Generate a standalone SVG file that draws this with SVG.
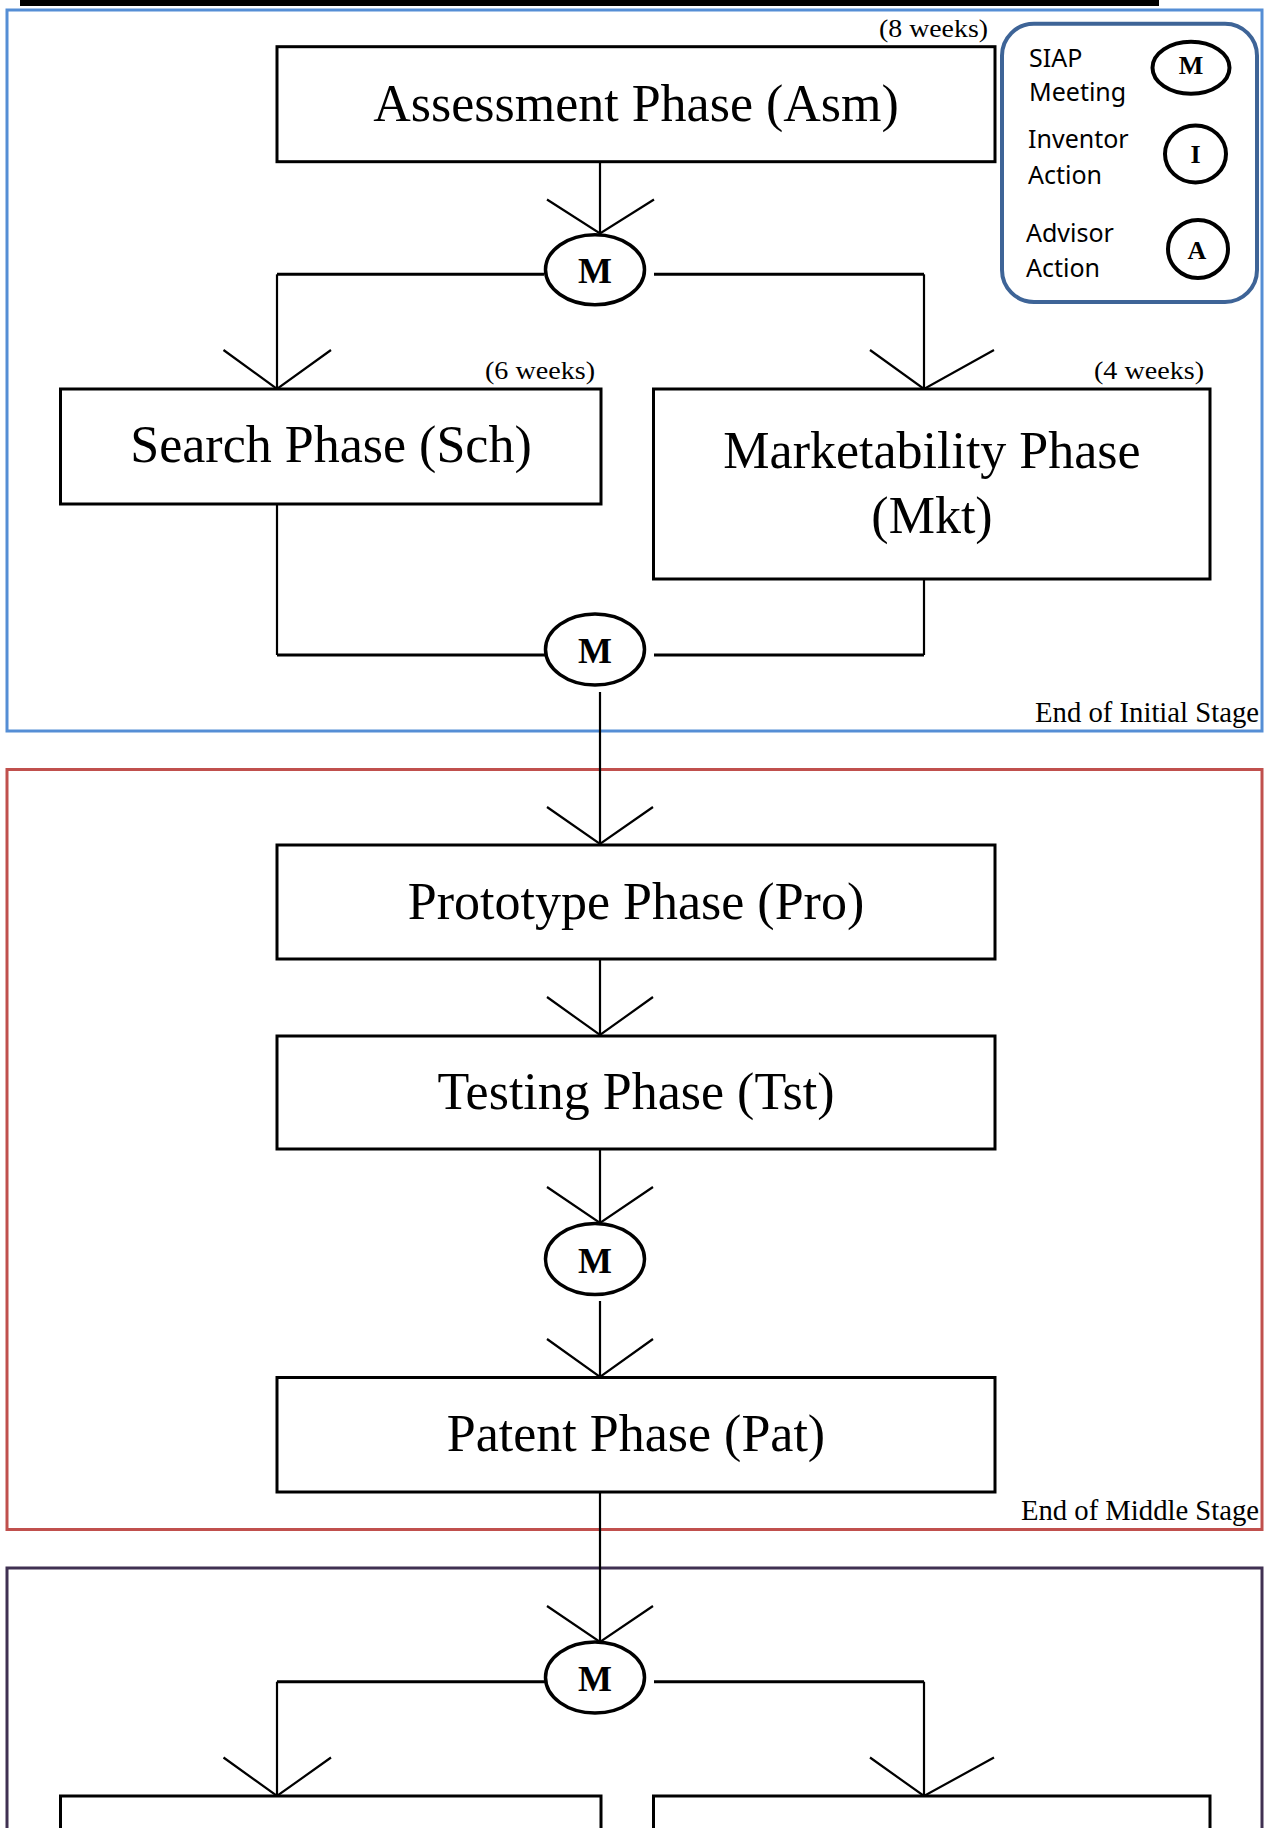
<svg xmlns="http://www.w3.org/2000/svg" width="1265" height="1828" viewBox="0 0 1265 1828">
<style>
.frame{fill:none;stroke-width:3}
.box{fill:#fff;stroke:#000;stroke-width:3}
.mnode{fill:#fff;stroke:#000;stroke-width:3.5}
.line{fill:none;stroke:#000;stroke-width:2.2}
.hline{fill:none;stroke:#000;stroke-width:3}
.phase{font-family:"Liberation Serif","Times New Roman",serif;font-size:52px;fill:#000;text-anchor:middle}
.small{font-family:"Liberation Serif","Times New Roman",serif;font-size:26px;fill:#000;text-anchor:end}
.stage{font-family:"Liberation Serif","Times New Roman",serif;font-size:28.5px;fill:#000;text-anchor:end}
.mtext{font-family:"Liberation Serif","Times New Roman",serif;font-weight:bold;font-size:36px;fill:#000;text-anchor:middle}
.legtext{font-family:"Noto Sans","Liberation Sans",sans-serif;font-size:25px;fill:#000}
.legsym{font-family:"Liberation Serif","Times New Roman",serif;font-weight:bold;font-size:26px;fill:#000;text-anchor:middle}
.legell{fill:#fff;stroke:#000;stroke-width:4}
</style>
<rect x="0" y="0" width="1265" height="1828" fill="#fff"/>
<rect x="20" y="0" width="1139" height="6" fill="#000"/>

<g id="stages">
<g id="stage-initial">
<rect class="frame" x="7" y="10" width="1255" height="721" stroke="#558ed5"/>
<text class="stage" x="1259" y="721.5" textLength="224" lengthAdjust="spacingAndGlyphs">End of Initial Stage</text>
</g>
<g id="stage-middle">
<rect class="frame" x="7" y="769.5" width="1255" height="760" stroke="#c0504d"/>
<text class="stage" x="1259" y="1519.5" textLength="238" lengthAdjust="spacingAndGlyphs">End of Middle Stage</text>
</g>
<g id="stage-final">
<rect class="frame" x="7" y="1568" width="1255" height="300" stroke="#403152"/>
</g>
</g>

<g id="connectors">
<path class="line" d="M600 162 V233.5"/>
<path class="line" d="M547 199.5 L600 233.5 L654 199.5"/>
<path class="hline" d="M544 274.3 H277"/>
<path class="line" d="M277 274.3 V389"/>
<path class="line" d="M223.5 350 L277 389 L331 350"/>
<path class="hline" d="M654 274.3 H924"/>
<path class="line" d="M924 274.3 V389"/>
<path class="line" d="M870 350 L924 389 L994 350"/>
<path class="line" d="M277 504 V655"/>
<path class="hline" d="M277 655 H545"/>
<path class="line" d="M924 579 V655"/>
<path class="hline" d="M924 655 H654"/>
<path class="line" d="M600 692 V844"/>
<path class="line" d="M547 807 L600 844 L653 807"/>
<path class="line" d="M600 959 V1035"/>
<path class="line" d="M547 997 L600 1035 L653 997"/>
<path class="line" d="M600 1149 V1223"/>
<path class="line" d="M547 1187 L600 1223 L653 1187"/>
<path class="line" d="M600 1301 V1377"/>
<path class="line" d="M547 1339 L600 1377 L653 1339"/>
<path class="line" d="M600 1492 V1642"/>
<path class="line" d="M547 1606 L600 1642 L653 1606"/>
<path class="hline" d="M545 1681.7 H277"/>
<path class="line" d="M277 1681.7 V1796"/>
<path class="line" d="M223.5 1757.5 L277 1796 L331 1757.5"/>
<path class="hline" d="M654 1681.7 H924"/>
<path class="line" d="M924 1681.7 V1796"/>
<path class="line" d="M870 1757.5 L924 1796 L994 1757.5"/>
</g>

<g id="asm">
<rect class="box" x="277" y="46.7" width="718" height="115"/>
<text class="phase" x="636" y="120.7">Assessment Phase (Asm)</text>
<text class="small" x="988" y="36.5" textLength="109" lengthAdjust="spacingAndGlyphs">(8 weeks)</text>
</g>

<g id="m1">
<ellipse class="mnode" cx="595" cy="269.7" rx="49.5" ry="35"/>
<text class="mtext" x="595" y="283">M</text>
</g>

<g id="sch">
<rect class="box" x="60.5" y="389" width="540.5" height="115"/>
<text class="phase" x="331" y="462">Search Phase (Sch)</text>
<text class="small" x="595" y="379" textLength="110" lengthAdjust="spacingAndGlyphs">(6 weeks)</text>
</g>

<g id="mkt">
<rect class="box" x="653.5" y="389" width="556.5" height="190"/>
<text class="phase" x="932" y="468.3">Marketability Phase</text>
<text class="phase" x="932" y="532.7">(Mkt)</text>
<text class="small" x="1204" y="379" textLength="110" lengthAdjust="spacingAndGlyphs">(4 weeks)</text>
</g>

<g id="m2">
<ellipse class="mnode" cx="595" cy="649.5" rx="49.5" ry="35.5"/>
<text class="mtext" x="595" y="663">M</text>
</g>

<g id="pro">
<rect class="box" x="277" y="845" width="718" height="114"/>
<text class="phase" x="636" y="918.5">Prototype Phase (Pro)</text>
</g>

<g id="tst">
<rect class="box" x="277" y="1036" width="718" height="113"/>
<text class="phase" x="636" y="1109">Testing Phase (Tst)</text>
</g>

<g id="m3">
<ellipse class="mnode" cx="595" cy="1259" rx="49.5" ry="35.5"/>
<text class="mtext" x="595" y="1272.5">M</text>
</g>

<g id="pat">
<rect class="box" x="277" y="1377.5" width="718" height="114.5"/>
<text class="phase" x="636" y="1451">Patent Phase (Pat)</text>
</g>

<g id="m4">
<ellipse class="mnode" cx="595" cy="1677.5" rx="49.5" ry="35.5"/>
<text class="mtext" x="595" y="1691">M</text>
</g>

<g id="final-left">
<rect class="box" x="60.5" y="1796" width="540.5" height="60"/>
</g>
<g id="final-right">
<rect class="box" x="653.5" y="1796" width="556.5" height="60"/>
</g>

<g id="legend">
<rect x="1002" y="23.7" width="255" height="278.3" rx="32" ry="32" fill="#fff" stroke="#3e6497" stroke-width="4"/>
<text class="legtext" x="1029" y="66.7">SIAP</text>
<text class="legtext" x="1029" y="101">Meeting</text>
<ellipse class="legell" cx="1191" cy="67.8" rx="38.5" ry="26"/>
<text class="legsym" x="1191" y="74.3">M</text>
<text class="legtext" x="1028" y="148.3">Inventor</text>
<text class="legtext" x="1028" y="184.3">Action</text>
<ellipse class="legell" cx="1195.5" cy="154" rx="30.5" ry="28.5" stroke-width="3.5"/>
<text class="legsym" x="1195.5" y="162.7">I</text>
<text class="legtext" x="1026" y="242.3">Advisor</text>
<text class="legtext" x="1026" y="277.3">Action</text>
<ellipse class="legell" cx="1198" cy="249" rx="30" ry="29" stroke-width="3.5"/>
<text class="legsym" x="1197" y="259.3">A</text>
</g>
</svg>
